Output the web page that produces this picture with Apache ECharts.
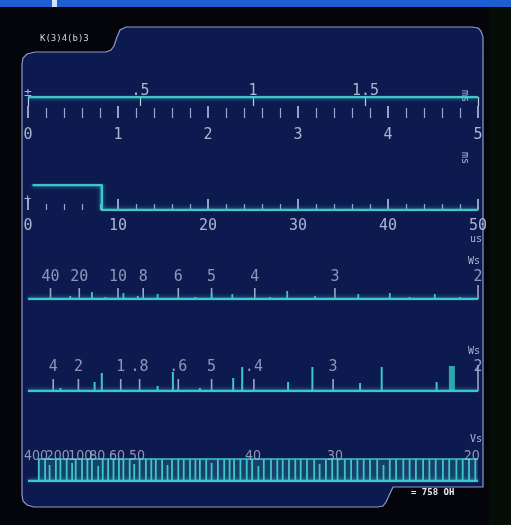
<!DOCTYPE html>
<html><head><meta charset="utf-8">
<script src="https://cdn.jsdelivr.net/npm/echarts/dist/echarts.min.js"></script>
<style>html,body{margin:0;padding:0;background:#03050a}#c{width:511px;height:525px}</style>
</head><body><div id="c"></div>
<script>
// ---------- data ----------
// Panel 1: time trace (ms), bottom scale 0..5, top scale 0..2
const p1Trace = [[0, 1], [5, 1]];
const p1TopLabels = ['.5', '1', '1.5'];
// Panel 2: step trace (us)
const p2Trace = [[0.5, 1], [8.2, 1], [8.2, 0], [50, 0]];
// Panels 3-5 share a period axis 0..0.5
const p3Labels = ['40', '20', '10', '8', '6', '5', '4', '3', '2'];
const p3LabelPos = [0.025, 0.057, 0.1, 0.128, 0.167, 0.204, 0.252, 0.341, 0.5];
const p3Spikes = [[0.047, 3], [0.071, 7], [0.086, 2], [0.106, 6], [0.122, 3], [0.144, 5], [0.186, 2], [0.204, 6], [0.227, 5], [0.269, 2], [0.288, 8], [0.319, 3], [0.367, 5], [0.402, 6], [0.424, 2], [0.452, 5], [0.48, 2]];
const p3Ticks = [[0.025, 11], [0.057, 11], [0.1, 11], [0.128, 11], [0.167, 11], [0.204, 11], [0.252, 11], [0.341, 11], [0.5, 14]];

const p4Labels = ['4', '2', '1', '.8', '.6', '5', '.4', '3', '2'];
const p4LabelPos = [0.028, 0.056, 0.103, 0.124, 0.167, 0.204, 0.251, 0.339, 0.5];
const p4Spikes = [[0.036, 3], [0.074, 9], [0.082, 18], [0.144, 5], [0.161, 19], [0.191, 3], [0.228, 13], [0.238, 24], [0.289, 9], [0.316, 24], [0.369, 8], [0.393, 24], [0.454, 9]];
const p4Wide = [[0.471, 25]];
const p4Ticks = [[0.028, 12], [0.056, 12], [0.103, 12], [0.124, 12], [0.167, 12], [0.204, 12], [0.251, 12], [0.339, 12], [0.5, 26]];

const p5Labels = ['400', '200', '100', '80', '60', '50', '40', '30', '20'];
const p5LabelPos = [0.009, 0.033, 0.058, 0.077, 0.099, 0.121, 0.25, 0.341, 0.493];
const p5Comb = [0.012, 0.019, 0.024, 0.031, 0.036, 0.043, 0.049, 0.053, 0.060, 0.066, 0.071, 0.078, 0.083, 0.089, 0.095, 0.101, 0.106, 0.113, 0.118, 0.124, 0.131, 0.137, 0.142, 0.149, 0.155, 0.160, 0.167, 0.173, 0.180, 0.186, 0.191, 0.198, 0.204, 0.211, 0.218, 0.224, 0.229, 0.236, 0.243, 0.249, 0.256, 0.262, 0.270, 0.277, 0.283, 0.290, 0.297, 0.303, 0.310, 0.318, 0.324, 0.331, 0.338, 0.344, 0.352, 0.359, 0.366, 0.373, 0.380, 0.388, 0.395, 0.402, 0.409, 0.417, 0.424, 0.431, 0.439, 0.446, 0.453, 0.461, 0.468, 0.476, 0.483, 0.490, 0.497];
const p5CombH = [22, 22, 16, 22, 22, 22, 18, 22, 22, 22, 22, 15, 22, 22, 22, 22, 22, 22, 17, 22, 22, 22, 22, 22, 16, 22, 22, 22, 22, 22, 22, 22, 18, 22, 22, 22, 22, 22, 22, 22, 15, 22, 22, 22, 22, 22, 22, 22, 22, 22, 17, 22, 22, 22, 22, 22, 22, 22, 22, 22, 16, 22, 22, 22, 22, 22, 22, 22, 22, 22, 22, 22, 22, 22, 22];
const p5Band = [[0.011, 22], [0.5, 22]];

// ---------- styles ----------
const CYAN = '#3cc8c8';
const TXT = '#aeb5cf';
const TICK = '#9ea6c4';
const FONT = 'DejaVu Sans Mono';
const NARROW = '"Liberation Sans Narrow", "DejaVu Sans Condensed", "DejaVu Sans Mono"';

function baseline(gi, data) {
  return { type: 'line', xAxisIndex: gi, yAxisIndex: gi, data: data, symbol: 'none', z: 5,
    lineStyle: { color: CYAN, width: 2.5, shadowBlur: 4, shadowColor: 'rgba(60,200,200,0.7)' } };
}
function spikes(gi, data, w, color, z) {
  return { type: 'custom', xAxisIndex: gi, yAxisIndex: gi, data: data, z: z || 4,
    encode: { x: 0, y: 1 },
    renderItem: function (params, api) {
      const x = api.value(0), h = api.value(1);
      const a = api.coord([x, 0]), b = api.coord([x, h]);
      return { type: 'rect', shape: { x: a[0] - w / 2, y: b[1], width: w, height: a[1] - b[1] }, style: { fill: color } };
    } };
}
function labels(gi, names, pos, y, fs, ff) {
  return { type: 'scatter', xAxisIndex: gi, yAxisIndex: gi, symbol: 'circle', symbolSize: 1,
    itemStyle: { color: 'transparent' }, z: 6, silent: true,
    data: names.map((n, i) => ({ name: n, value: [pos[i], y] })),
    label: { show: true, position: 'inside', formatter: '{b}', color: TXT, fontFamily: ff || FONT, fontSize: fs || 15 } };
}

const L = 28, R = 33;
const grids = [
  { left: L, right: R, top: 97, height: 21 },
  { left: L, right: R, top: 185, height: 25 },
  { left: L, right: R, top: 270, height: 29 },
  { left: L, right: R, top: 360, height: 31 },
  { left: L, right: R, top: 446, height: 35 }
];
const hiddenX = (gi, max) => ({ type: 'value', gridIndex: gi, min: 0, max: max, show: false });
const xAxes = [
  { type: 'value', gridIndex: 0, min: 0, max: 5, interval: 1, position: 'bottom',
    axisLine: { show: false }, splitLine: { show: false },
    axisTick: { inside: true, length: 12, lineStyle: { color: '#c8cee4', width: 1.5 } },
    minorTick: { show: true, splitNumber: 5, length: 10, lineStyle: { color: TICK, width: 1.2 } },
    axisLabel: { color: TXT, fontFamily: FONT, fontSize: 15, margin: 10 } },
  { type: 'value', gridIndex: 1, min: 0, max: 50, interval: 10, position: 'bottom',
    axisLine: { show: false }, splitLine: { show: false },
    axisTick: { inside: true, length: 11, lineStyle: { color: '#c8cee4', width: 1.5 } },
    minorTick: { show: true, splitNumber: 5, length: 6, lineStyle: { color: TICK, width: 1.2 } },
    axisLabel: { color: TXT, fontFamily: FONT, fontSize: 15, margin: 9 } },
  hiddenX(2, 0.5), hiddenX(3, 0.5), hiddenX(4, 0.5),
  { type: 'value', gridIndex: 0, min: 0, max: 2, interval: 0.5, position: 'top',
    axisLine: { show: false }, splitLine: { show: false },
    axisTick: { inside: true, length: 9, lineStyle: { color: '#c8cee4', width: 1.2 } },
    axisLabel: { color: TXT, fontFamily: FONT, fontSize: 15, margin: -2,
      formatter: v => ({ 0.5: p1TopLabels[0], 1: p1TopLabels[1], 1.5: p1TopLabels[2] }[v] || '') } }
];
const yAxes = [
  { type: 'value', gridIndex: 0, min: 0, max: 1, show: false },
  { type: 'value', gridIndex: 1, min: 0, max: 1, show: false },
  { type: 'value', gridIndex: 2, min: 0, max: 29, show: false },
  { type: 'value', gridIndex: 3, min: 0, max: 31, show: false },
  { type: 'value', gridIndex: 4, min: 0, max: 35, show: false }
];

const series = [
  baseline(0, p1Trace),
  baseline(1, p2Trace),
  // panel 3
  baseline(2, [[0, 0], [0.5, 0]]),
  spikes(2, p3Ticks, 1.6, TICK, 3),
  spikes(2, p3Spikes, 1.8, CYAN, 4),
  labels(2, p3Labels, p3LabelPos, 22),
  // panel 4
  baseline(3, [[0, 0], [0.5, 0]]),
  spikes(3, p4Ticks, 1.6, TICK, 3),
  spikes(3, p4Spikes, 2, CYAN, 4),
  spikes(3, p4Wide, 6, '#2fa7aa', 4),
  labels(3, p4Labels, p4LabelPos, 24),
  // panel 5
  baseline(4, [[0, 0], [0.5, 0]]),
  { type: 'line', xAxisIndex: 4, yAxisIndex: 4, data: p5Band, symbol: 'none', z: 4,
    lineStyle: { color: CYAN, width: 1.5 }, areaStyle: { color: 'rgba(60,200,200,0.32)' } },
  spikes(4, p5Comb.map((x, i) => [x, p5CombH[i]]), 1.8, CYAN, 4),
  labels(4, p5Labels, p5LabelPos, 25, 14, NARROW)
];

const panelPts = [[35,52],[106,52],[111,50],[114,46],[117,37],[120,30],[126,27],[472,27],[478,28],[481,31],[483,37],[483,487],[393,487],[386,502],[383,506],[378,507],[34,507],[27,505],[23,501],[22,495],[22,64],[23,58],[27,54]];
const small = (x, y, t, extra) => Object.assign({ type: 'text', x: x, y: y, z: 20,
  style: { text: t, fill: TXT, font: '10px ' + FONT } }, extra || {});

const graphic = [
  { type: 'rect', z: -20, shape: { x: 0, y: 0, width: 511, height: 7 }, style: { fill: '#1d5ed4' } },
  { type: 'rect', z: -19, shape: { x: 52, y: 0, width: 5, height: 7 }, style: { fill: '#cfe3ff' } },
  { type: 'rect', z: -20, shape: { x: 489, y: 7, width: 22, height: 518 }, style: { fill: '#050d07' } },
  { type: 'polygon', z: -15, shape: { points: panelPts }, style: { fill: '#0d1a50', stroke: '#8e9cc6', lineWidth: 1.2 } },
  small(40, 34, '', { style: { text: 'K(3)4(b)3', fill: '#d0d4e0', font: '9px ' + FONT } }),
  small(470, 90, 'ms', { rotation: -Math.PI / 2 }),
  small(470, 152, 'ms', { rotation: -Math.PI / 2 }),
  small(470, 234, 'us'),
  small(468, 256, 'Ws'),
  small(468, 346, 'Ws'),
  small(470, 434, 'Vs'),
  small(24, 86, '', { style: { text: '±', fill: TXT, font: '13px ' + FONT } }),
  small(24, 194, '', { style: { text: '+', fill: TXT, font: '12px ' + FONT } }),
  small(411, 488, '', { style: { text: '= 758 OH', fill: '#e4e8f0', font: 'bold 9px ' + FONT } })
];

const chart = echarts.init(document.getElementById('c'));
chart.setOption({
  backgroundColor: '#03050a',
  animation: false,
  grid: grids,
  xAxis: xAxes,
  yAxis: yAxes,
  series: series,
  graphic: graphic
});
</script></body></html>
